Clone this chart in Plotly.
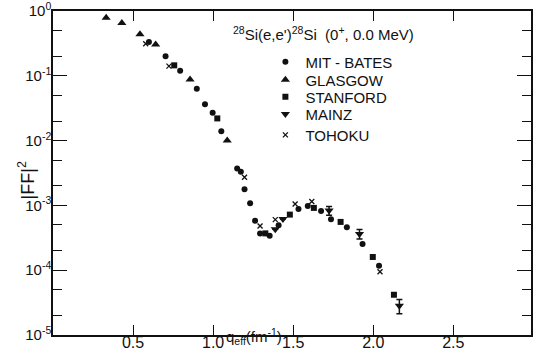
import plotly.graph_objects as go

# ---- data ----
mit_x = [0.599, 0.703, 0.794, 0.898, 0.949, 0.997, 1.051, 1.150, 1.173, 1.196, 1.231, 1.262,
         1.293, 1.353, 1.409, 1.533, 1.591, 1.674, 1.736, 1.835, 1.933, 2.036]
mit_y = [0.332, 0.20, 0.12, 0.0632, 0.0365, 0.0269, 0.014, 0.0037, 0.0033, 0.00177, 0.00108, 0.000582,
         0.00037, 0.000341, 0.000493, 0.000883, 0.00098, 0.000822, 0.00061, 0.000459, 0.000254, 0.000117]

glasgow_x = [0.332, 0.430, 0.543, 0.641, 0.856, 1.088]
glasgow_y = [0.79, 0.65, 0.436, 0.303, 0.088, 0.0100]

stanford_x = [0.757, 1.026, 1.326, 1.479, 1.629, 1.796, 1.997, 2.129]
stanford_y = [0.145, 0.022, 0.00037, 0.000721, 0.000915, 0.000556, 0.00016, 0.0000418]

mainz_x = [1.388, 1.436, 1.724, 1.914, 2.163]
mainz_y = [0.000427, 0.000618, 0.000832, 0.000363, 0.0000282]
mainz_err = [0, 0, 0.00013, 0.00006, 0.000007]

tohoku_x = [0.579, 0.724, 1.196, 1.293, 1.388, 1.512, 1.616, 2.042]
tohoku_y = [0.313, 0.141, 0.00272, 0.000482, 0.000604, 0.00105, 0.00115, 0.0000948]

series_names = ["MIT - BATES", "GLASGOW", "STANFORD", "MAINZ", "TOHOKU"]

x_ticks = [0.5, 1.0, 1.5, 2.0, 2.5]
x_ticktext = ["0.5", "1.0", "1.5", "2.0", "2.5"]
y_ticks = [1e-5, 1e-4, 1e-3, 1e-2, 1e-1, 1e0]
y_ticktext = ["10<sup>-5</sup>", "10<sup>-4</sup>", "10<sup>-3</sup>", "10<sup>-2</sup>",
              "10<sup>-1</sup>", "10<sup>0</sup>"]
y_minor = [m * 10.0 ** e for e in range(-5, 0) for m in (2, 5)]

INK = "#111111"
FONT = "Liberation Sans"

# plot-area geometry (pixels)
L, T, W, H = 52.5, 11, 480.5, 323.6


def px(xp):
    return (xp - L) / W


def py(yp):
    return (T + H - yp) / H


fig = go.Figure()
fig.add_trace(go.Scatter(x=mit_x, y=mit_y, mode="markers", name=series_names[0], legend="legend",
                         marker=dict(symbol="circle", size=6, color=INK)))
fig.add_trace(go.Scatter(x=glasgow_x, y=glasgow_y, mode="markers", name=series_names[1], legend="legend2",
                         marker=dict(symbol="triangle-up", size=8, color=INK)))
fig.add_trace(go.Scatter(x=stanford_x, y=stanford_y, mode="markers", name=series_names[2], legend="legend3",
                         marker=dict(symbol="square", size=6, color=INK)))
fig.add_trace(go.Scatter(x=mainz_x, y=mainz_y, mode="markers", name=series_names[3], legend="legend4",
                         marker=dict(symbol="triangle-down", size=8, color=INK),
                         error_y=dict(type="data", array=mainz_err, visible=True,
                                      color=INK, thickness=1.5, width=3)))
fig.add_trace(go.Scatter(x=tohoku_x, y=tohoku_y, mode="markers", name=series_names[4], legend="legend5",
                         marker=dict(symbol="x-thin", size=5, color=INK,
                                     line=dict(width=1.3, color=INK))))

legend_rows = [62, 80, 97, 114, 135]
legend_common = dict(xanchor="left", yanchor="middle", bgcolor="rgba(0,0,0,0)",
                     font=dict(size=15, family=FONT, color=INK), itemwidth=30)
legends = {}
for i, row in enumerate(legend_rows):
    key = "legend" if i == 0 else f"legend{i + 1}"
    legends[key] = dict(x=px(266), y=py(row), **legend_common)

fig.update_layout(
    width=533, height=362,
    margin=dict(l=L, r=0, t=T, b=362 - T - H),
    paper_bgcolor="white", plot_bgcolor="white",
    font=dict(family=FONT, color=INK, size=15),
    showlegend=True,
    **legends,
)

fig.update_xaxes(
    range=[0, 2.985], showgrid=False, zeroline=False,
    showline=True, linecolor=INK, linewidth=1.5, mirror="ticks",
    ticks="inside", ticklen=10, tickwidth=1.3, tickcolor=INK,
    tickmode="array", tickvals=x_ticks, ticktext=x_ticktext,
    tickfont=dict(size=16), ticklabeloverflow="allow", ticklabelstandoff=-8,
)
fig.update_yaxes(
    type="log", range=[-5, 0], showgrid=False, zeroline=False,
    showline=True, linecolor=INK, linewidth=1.5, mirror="ticks",
    ticks="inside", ticklen=14, tickwidth=1.3, tickcolor=INK,
    tickmode="array", tickvals=y_ticks, ticktext=y_ticktext,
    tickfont=dict(size=15), ticklabelstandoff=-3, ticklabeloverflow="allow",
    minor=dict(ticks="inside", ticklen=9, tickwidth=1.2, tickcolor=INK,
               tickmode="array", tickvals=y_minor, showgrid=False),
)

fig.add_annotation(text="<sup>28</sup>Si(e,e')<sup>28</sup>Si  (0<sup>+</sup>, 0.0 MeV)",
                   xref="paper", yref="paper", x=px(324), y=py(22),
                   showarrow=False, font=dict(size=15, family=FONT, color=INK))
fig.add_annotation(text="q<sub>eff</sub>(fm<sup>-1</sup>)",
                   xref="paper", yref="paper", x=px(255), y=py(349),
                   showarrow=False, font=dict(size=15, family=FONT, color=INK))
fig.add_annotation(text="|FF|<sup>2</sup>", textangle=-90,
                   xref="paper", yref="paper", x=px(12), y=py(180),
                   showarrow=False, font=dict(size=18, family=FONT, color=INK))

fig.write_html("out.html", config={"displayModeBar": False},
               post_script="document.body.style.margin='0';document.body.style.padding='0';"
                           "document.body.style.overflow='hidden';")
